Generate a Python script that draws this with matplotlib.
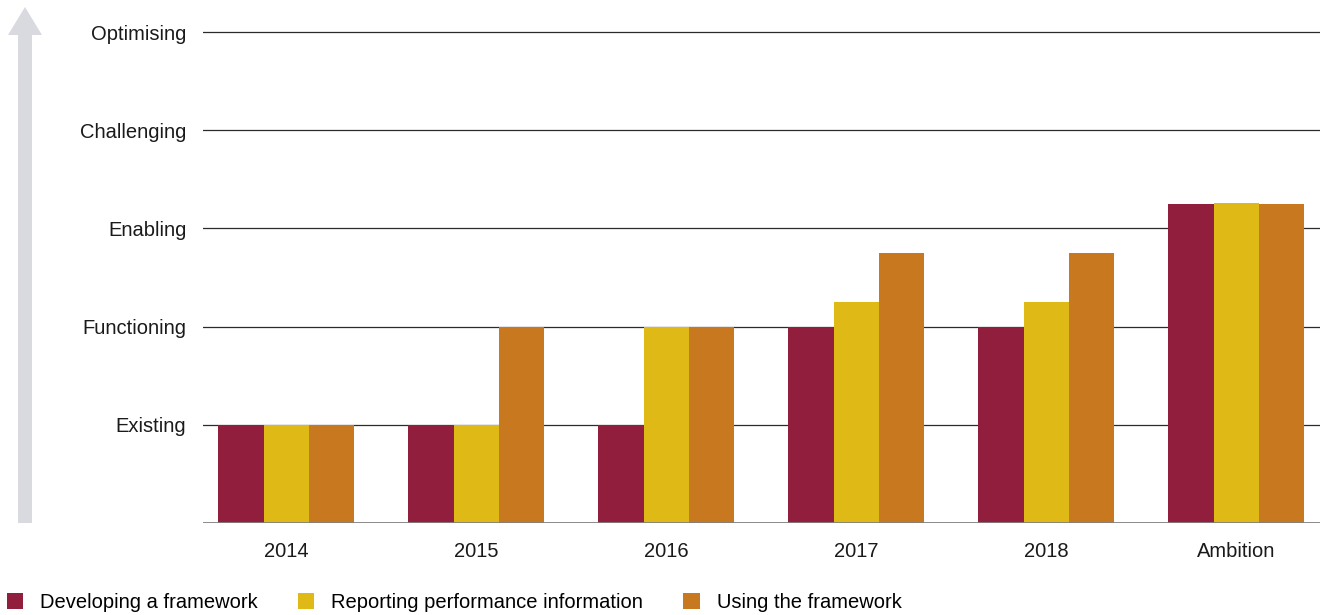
import matplotlib.pyplot as plt
from matplotlib.patches import Polygon, Patch

plt.rcParams['font.family'] = ['Liberation Sans', 'DejaVu Sans']

# maturity levels and yearly scores
levels = ['Existing', 'Functioning', 'Enabling', 'Challenging', 'Optimising']
years = ['2014', '2015', '2016', '2017', '2018', 'Ambition']
developing = [1, 1, 1, 2, 2, 3.25]
reporting = [1, 1, 2, 2.25, 2.25, 3.26]
using = [1, 2, 2, 2.75, 2.75, 3.25]

series = ['Developing a framework', 'Reporting performance information', 'Using the framework']
colors = ['#921e3d', '#dfb916', '#c8781f']

W, H = 1320, 615
fig = plt.figure(figsize=(W / 100, H / 100), dpi=100)

# axes placed so that baseline sits at 523px and each level is ~98px apart
unit = 98.2
ytop = 5.1
ax = fig.add_axes([203 / W, (H - 523) / H, 1 - 203 / W, ytop * unit / H])

x = range(len(years))
bw = 0.237
for k, vals in enumerate([developing, reporting, using]):
    ax.bar([i + (k - 1) * bw for i in x], vals, width=bw, color=colors[k],
           zorder=3, linewidth=0)

ax.set_xlim(-0.437, 5.442)
ax.set_ylim(0, ytop)

for lv in range(1, 6):
    ax.axhline(lv, color='#2b2b2b', linewidth=0.9, zorder=1)
ax.axhline(0, color='#808080', linewidth=2, zorder=4)

ax.set_yticks(range(1, 6))
ax.set_yticklabels(levels, fontsize=14.5, color='#1a1a1a')
ax.set_xticks(list(x))
ax.set_xticklabels(years, fontsize=14.5, color='#1a1a1a')
ax.tick_params(axis='y', length=0, pad=12)
ax.tick_params(axis='x', length=0, pad=14)
for s in ax.spines.values():
    s.set_visible(False)

# grey upward arrow on the left
pts = [(18, 523), (32, 523), (32, 35), (42, 35), (25, 7), (8, 35), (18, 35)]
fig.patches.append(Polygon([(px / W, 1 - py / H) for px, py in pts],
                           closed=True, transform=fig.transFigure,
                           facecolor='#d9d9e0', edgecolor='none'))

handles = [Patch(facecolor=c, edgecolor='none') for c in colors]
fig.legend(handles, series, loc='lower left', bbox_to_anchor=(-0.004, -0.015),
           ncol=3, frameon=False, fontsize=14.5, handlelength=0.8,
           handleheight=0.8, handletextpad=0.85, columnspacing=2.0,
           borderaxespad=0.2)

fig.savefig('out.png', dpi=100)
